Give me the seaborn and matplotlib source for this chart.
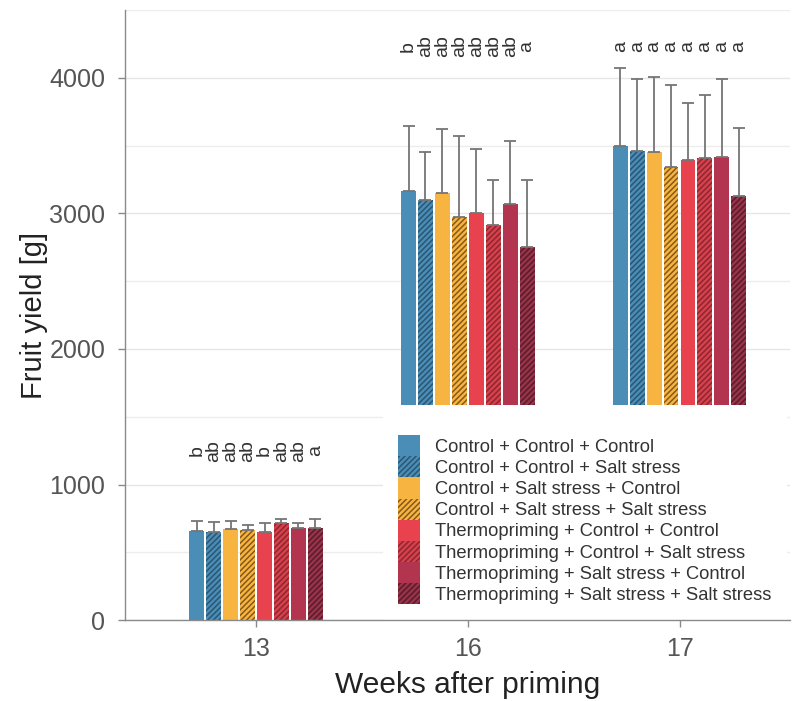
import numpy as np
import pandas as pd
import matplotlib
matplotlib.use("Agg")
import matplotlib.pyplot as plt
from matplotlib.patches import Patch
from matplotlib.ticker import MultipleLocator
import seaborn as sns

# ---------------- data ----------------
weeks = ["13", "16", "17"]
treatments = [
    "Control + Control + Control",
    "Control + Control + Salt stress",
    "Control + Salt stress + Control",
    "Control + Salt stress + Salt stress",
    "Thermopriming + Control + Control",
    "Thermopriming + Control + Salt stress",
    "Thermopriming + Salt stress + Control",
    "Thermopriming + Salt stress + Salt stress",
]
mean_w13 = [656, 649, 671, 668, 646, 717, 676, 676]
mean_w16 = [3169, 3100, 3152, 2972, 3002, 2913, 3071, 2751]
mean_w17 = [3500, 3464, 3451, 3341, 3395, 3407, 3419, 3132]
err_w13 = [74, 76, 59, 30, 69, 25, 39, 66]
err_w16 = [479, 356, 469, 602, 471, 335, 461, 497]
err_w17 = [573, 525, 553, 607, 417, 464, 573, 499]
letters_w13 = ["b", "ab", "ab", "ab", "b", "ab", "ab", "a"]
letters_w16 = ["b", "ab", "ab", "ab", "ab", "ab", "ab", "a"]
letters_w17 = ["a", "a", "a", "a", "a", "a", "a", "a"]

face_colors = ["#4A8DB6", "#4A8DB6", "#F8B440", "#F8B440",
               "#E9424F", "#D8414C", "#B2344F", "#98334A"]
hatch_colors = ["#4A8DB6", "#2A5673", "#F8B440", "#85591A",
                "#E9424F", "#8A2730", "#B2344F", "#5A1C2A"]
hatched = [False, True, False, True, False, True, False, True]

means = [mean_w13, mean_w16, mean_w17]
errs = [err_w13, err_w16, err_w17]
letters = [letters_w13, letters_w16, letters_w17]

rows = []
for wi, w in enumerate(weeks):
    for ti, t in enumerate(treatments):
        rows.append({"week": w, "treatment": t, "yield": means[wi][ti],
                     "err": errs[wi][ti], "letter": letters[wi][ti]})
df = pd.DataFrame(rows)

# ---------------- style ----------------
sns.set_theme(style="white")
plt.rcParams["font.family"] = ["Liberation Sans", "DejaVu Sans"]
plt.rcParams["hatch.linewidth"] = 1.1

fig = plt.figure(figsize=(8, 7.01), dpi=100)
ax = fig.add_axes([0.156, 0.1155, 0.831, 0.870])

palette = dict(zip(treatments, face_colors))
sns.barplot(data=df, x="week", y="yield", hue="treatment", order=weeks,
            hue_order=treatments, palette=palette, width=0.64, gap=0.12,
            errorbar=None, legend=False, linewidth=0, saturation=1, ax=ax,
            zorder=3)

bar_containers = list(ax.containers)
for ti, cont in enumerate(bar_containers):
    for wi, patch in enumerate(cont.patches):
        patch.set_edgecolor(hatch_colors[ti])
        patch.set_linewidth(0)
        if hatched[ti]:
            patch.set_hatch("//////")

for ti, cont in enumerate(bar_containers):
    for wi, patch in enumerate(cont.patches):
        xc = patch.get_x() + patch.get_width() / 2
        top = patch.get_height()
        e = errs[wi][ti]
        ax.errorbar([xc], [top], yerr=[[0], [e]], fmt="none", ecolor="#757575",
                    elinewidth=1.3, capsize=4.5, capthick=1.3, zorder=4)

# significance letters
letter_y = {"13": 1250, "16": 4235, "17": 4235}
for ti, cont in enumerate(bar_containers):
    for wi, patch in enumerate(cont.patches):
        xc = patch.get_x() + patch.get_width() / 2
        ax.text(xc, letter_y[weeks[wi]], letters[wi][ti], rotation=90,
                ha="center", va="center", fontsize=14, color="#333333",
                zorder=5)

ax.set_ylim(0, 4500)
ax.set_xlim(-0.62, 2.52)
ax.yaxis.set_major_locator(MultipleLocator(1000))
ax.yaxis.set_minor_locator(MultipleLocator(500))
ax.grid(axis="y", which="major", color="#E6E6E6", linewidth=1.0, zorder=0)
ax.grid(axis="y", which="minor", color="#EDEDED", linewidth=1.0, zorder=0)
ax.set_axisbelow(True)

for s in ["top", "right"]:
    ax.spines[s].set_visible(False)
for s in ["left", "bottom"]:
    ax.spines[s].set_color("#8A8A8A")
    ax.spines[s].set_linewidth(1.0)
    ax.spines[s].set_zorder(12)

ax.tick_params(axis="both", which="major", labelsize=18, colors="#8A8A8A",
               labelcolor="#555555", length=5, width=1, left=True, bottom=True,
               pad=7)
ax.tick_params(axis="y", which="major", pad=9)
ax.tick_params(axis="y", which="minor", length=0)

ax.set_xlabel("Weeks after priming", fontsize=21.5, color="#222222")
ax.set_ylabel("Fruit yield [g]", fontsize=21, color="#222222")
ax.xaxis.set_label_coords(0.516, -0.083)
ax.yaxis.set_label_coords(-0.116, 0.5)

# legend
handles = []
for ti, t in enumerate(treatments):
    handles.append(Patch(facecolor=face_colors[ti], edgecolor=hatch_colors[ti],
                         hatch="//////" if hatched[ti] else None, linewidth=0))
leg = ax.legend(handles, treatments, loc="lower left",
                bbox_to_anchor=(0.388, 0.0), borderaxespad=0,
                frameon=True, fancybox=False, framealpha=1, facecolor="white",
                edgecolor="none", fontsize=13.2, labelspacing=0,
                handlelength=1.2, handleheight=1.4, handletextpad=0.8,
                borderpad=0.85, title=" ", title_fontsize=10)
for txt in leg.get_texts():
    txt.set_color("#333333")
leg.set_zorder(10)

fig.savefig("out.png", dpi=100)
